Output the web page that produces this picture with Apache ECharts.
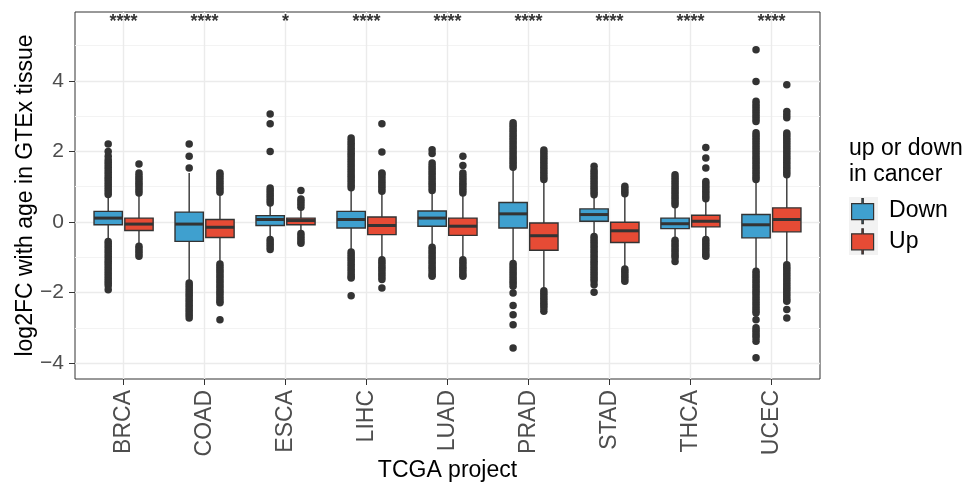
<!DOCTYPE html>
<html>
<head>
<meta charset="utf-8">
<script src="https://cdn.jsdelivr.net/npm/echarts@6/dist/echarts.min.js"></script>
<style>
  html, body { margin: 0; padding: 0; background: #fff; }
  #chart { width: 967px; height: 484px; }
</style>
</head>
<body>
<div id="chart"></div>
<script>
// TCGA projects along x
var projects = ['BRCA', 'COAD', 'ESCA', 'LIHC', 'LUAD', 'PRAD', 'STAD', 'THCA', 'UCEC'];
var stars = ['****', '****', '*', '****', '****', '****', '****', '****', '****'];

// [lower whisker, Q1, median, Q3, upper whisker]
var downBoxes = [
    [-0.50, -0.08, 0.11, 0.30, 0.73],
    [-1.68, -0.55, -0.06, 0.28, 1.39],
    [-0.43, -0.10, 0.07, 0.18, 0.49],
    [-0.80, -0.17, 0.07, 0.30, 0.92],
    [-0.69, -0.12, 0.11, 0.31, 0.84],
    [-1.12, -0.17, 0.23, 0.55, 1.50],
    [-0.33, 0.02, 0.21, 0.37, 0.72],
    [-0.50, -0.19, -0.05, 0.11, 0.44],
    [-1.35, -0.45, -0.08, 0.21, 1.15]
];
var upBoxes = [
    [-0.60, -0.24, -0.06, 0.11, 0.76],
    [-1.14, -0.44, -0.15, 0.07, 0.76],
    [-0.27, -0.08, 0.04, 0.11, 0.35],
    [-1.02, -0.36, -0.10, 0.14, 0.82],
    [-1.02, -0.38, -0.12, 0.11, 0.77],
    [-1.90, -0.80, -0.39, -0.03, 1.15],
    [-1.28, -0.58, -0.25, -0.01, 0.72],
    [-0.45, -0.14, 0.02, 0.19, 0.63],
    [-1.16, -0.28, 0.07, 0.40, 1.29]
];

// outlying points, one list per project
var downOutliers = [
    [0.78, 0.85, 0.92, 0.99, 1.06, 1.13, 1.20, 1.27, 1.34, 1.41, 1.48, 1.55, 1.62, 1.69, 1.76, 1.86, 2.00, 2.21,
     -0.55, -0.62, -0.69, -0.76, -0.83, -0.90, -0.97, -1.04, -1.11, -1.18, -1.25, -1.32, -1.39, -1.46, -1.53, -1.60, -1.67, -1.74, -1.81, -1.92],
    [1.53, 1.86, 2.21,
     -1.73, -1.80, -1.87, -1.94, -2.01, -2.08, -2.15, -2.22, -2.29, -2.36, -2.43, -2.50, -2.57, -2.64, -2.72],
    [0.54, 0.61, 0.68, 0.75, 0.82, 0.89, 0.96, 2.00, 2.78, 3.06,
     -0.50, -0.57, -0.64, -0.71, -0.78],
    [0.97, 1.04, 1.11, 1.18, 1.25, 1.32, 1.39, 1.46, 1.53, 1.60, 1.67, 1.74, 1.81, 1.88, 1.95, 2.02, 2.09, 2.16, 2.23, 2.30, 2.38,
     -0.85, -0.92, -0.99, -1.06, -1.13, -1.20, -1.27, -1.34, -1.41, -1.48, -1.55, -1.59, -2.09],
    [0.89, 0.96, 1.03, 1.10, 1.17, 1.24, 1.31, 1.38, 1.45, 1.52, 1.59, 1.67, 1.94, 2.05,
     -0.72, -0.79, -0.86, -0.93, -1.00, -1.07, -1.14, -1.21, -1.28, -1.35, -1.42, -1.49, -1.54],
    [1.55, 1.62, 1.69, 1.76, 1.83, 1.90, 1.97, 2.04, 2.11, 2.18, 2.25, 2.32, 2.39, 2.46, 2.53, 2.60, 2.67, 2.74, 2.81,
     -1.18, -1.25, -1.32, -1.39, -1.46, -1.53, -1.60, -1.67, -1.74, -1.82, -2.01, -2.37, -2.63, -2.91, -3.57],
    [0.77, 0.84, 0.91, 0.98, 1.05, 1.12, 1.19, 1.26, 1.33, 1.40, 1.47, 1.58,
     -0.41, -0.48, -0.55, -0.62, -0.69, -0.76, -0.83, -0.90, -0.97, -1.04, -1.11, -1.18, -1.25, -1.32, -1.39, -1.46, -1.53, -1.60, -1.67, -1.78, -1.99],
    [0.49, 0.56, 0.63, 0.70, 0.77, 0.84, 0.91, 0.98, 1.05, 1.12, 1.19, 1.26, 1.34,
     -0.52, -0.59, -0.66, -0.73, -0.80, -0.87, -0.94, -1.01, -1.12],
    [1.20, 1.27, 1.34, 1.41, 1.48, 1.55, 1.62, 1.69, 1.76, 1.83, 1.90, 1.97, 2.04, 2.11, 2.18, 2.25, 2.32, 2.39, 2.46, 2.53,
     2.85, 2.92, 2.99, 3.06, 3.13, 3.20, 3.27, 3.34, 3.42, 3.98, 4.88,
     -1.40, -1.47, -1.54, -1.61, -1.68, -1.75, -1.82, -1.89, -1.96, -2.03, -2.10, -2.17, -2.24, -2.31, -2.38, -2.45, -2.52, -2.58,
     -2.77, -3.00, -3.07, -3.14, -3.21, -3.28, -3.38, -3.85]
];
var upOutliers = [
    [0.82, 0.89, 0.96, 1.03, 1.10, 1.17, 1.24, 1.31, 1.39, 1.64,
     -0.69, -0.76, -0.83, -0.90, -0.97],
    [0.84, 0.91, 0.98, 1.05, 1.12, 1.19, 1.26, 1.33, 1.39,
     -1.19, -1.26, -1.33, -1.40, -1.47, -1.54, -1.61, -1.68, -1.75, -1.82, -1.89, -1.96, -2.03, -2.10, -2.17, -2.24, -2.29, -2.77],
    [0.42, 0.50, 0.58, 0.65, 0.89,
     -0.33, -0.40, -0.47, -0.54, -0.60],
    [0.87, 0.94, 1.01, 1.08, 1.15, 1.22, 1.29, 1.36, 1.39, 1.98, 2.78,
     -1.07, -1.14, -1.21, -1.28, -1.35, -1.42, -1.49, -1.56, -1.63, -1.87],
    [0.82, 0.89, 0.96, 1.03, 1.10, 1.17, 1.24, 1.31, 1.39, 1.60, 1.86,
     -1.07, -1.14, -1.21, -1.28, -1.35, -1.42, -1.49, -1.54],
    [1.20, 1.27, 1.34, 1.41, 1.48, 1.55, 1.62, 1.69, 1.76, 1.83, 1.90, 1.97, 2.04,
     -1.95, -2.02, -2.09, -2.16, -2.23, -2.30, -2.37, -2.44, -2.53],
    [0.80, 0.87, 0.94, 1.01,
     -1.33, -1.40, -1.47, -1.54, -1.61, -1.68],
    [0.66, 0.73, 0.80, 0.87, 0.94, 1.01, 1.08, 1.15, 1.53, 1.81, 2.11,
     -0.50, -0.57, -0.64, -0.71, -0.78, -0.85, -0.92, -0.97],
    [1.34, 1.41, 1.48, 1.55, 1.62, 1.69, 1.76, 1.83, 1.90, 1.97, 2.04, 2.11, 2.18, 2.25, 2.32, 2.39, 2.46, 2.52,
     2.95, 3.04, 3.13, 3.89,
     -1.21, -1.28, -1.35, -1.42, -1.49, -1.56, -1.63, -1.70, -1.77, -1.84, -1.91, -1.98, -2.05, -2.12, -2.19, -2.25, -2.48, -2.72]
];

var majorTicks = [-4, -2, 0, 2, 4];
var minorTicks = [-3, -1, 1, 3, 5];

var DODGE = 0.19;     // half the dodge distance, in category units
var BOX_W = 0.35;     // box width, in category units
var STAR_Y = 5.67;
var FONT = '"Liberation Sans", Arial, Helvetica, sans-serif';
var DARK = '#333333';
var keyIcon = 'path://M11,0h1.4v5h10.3v16h-10.3v4h-1.4v-4h-10.3v-16h10.3z';

var chart = echarts.init(document.getElementById('chart'));

function boxData(boxes, shift) {
    return boxes.map(function (b, i) { return [i + shift].concat(b); });
}

function pointData(lists, shift) {
    var out = [];
    lists.forEach(function (vals, i) {
        vals.forEach(function (v) { out.push([i + shift, v]); });
    });
    return out;
}

function renderBox(params, api) {
    var x = api.value(0);
    var lo = api.coord([x, api.value(1)]);
    var q1 = api.coord([x, api.value(2)]);
    var med = api.coord([x, api.value(3)]);
    var q3 = api.coord([x, api.value(4)]);
    var hi = api.coord([x, api.value(5)]);
    var half = api.size([BOX_W, 0])[0] / 2;
    return {
        type: 'group',
        children: [
            {type: 'line', shape: {x1: lo[0], y1: lo[1], x2: hi[0], y2: hi[1]},
             style: {stroke: DARK, lineWidth: 1.4}},
            {type: 'rect', shape: {x: q3[0] - half, y: q3[1], width: half * 2, height: q1[1] - q3[1]},
             style: {fill: api.visual('color'), stroke: DARK, lineWidth: 1.4}},
            {type: 'line', shape: {x1: med[0] - half, y1: med[1], x2: med[0] + half, y2: med[1]},
             style: {stroke: DARK, lineWidth: 3}}
        ]
    };
}

function minusLabel(v) {
    return v < 0 ? '\u2212' + (-v) : String(v);
}

var option = {
    animation: false,
    backgroundColor: '#ffffff',
    textStyle: {fontFamily: FONT},
    grid: {
        left: 75, right: 147, top: 12, bottom: 105,
        outerBoundsMode: 'none',
        containLabel: false,
        show: true, borderColor: DARK, borderWidth: 1
    },
    title: {
        text: 'up or down\nin cancer',
        left: 849, top: 136,
        padding: 0,
        textStyle: {fontFamily: FONT, fontSize: 23, fontWeight: 'normal', color: '#000', lineHeight: 26}
    },
    graphic: [{
        type: 'rect', left: 849, top: 197, z: -1,
        shape: {width: 29, height: 58},
        style: {fill: '#F2F2F2'}
    }],
    legend: {
        orient: 'vertical',
        left: 851, top: 198,
        padding: 0,
        itemWidth: 23, itemHeight: 25, itemGap: 4,
        data: [{name: 'Down', icon: keyIcon}, {name: 'Up', icon: keyIcon}],
        itemStyle: {borderColor: DARK, borderWidth: 1.2},
        textStyle: {fontFamily: FONT, fontSize: 23, color: '#000', padding: [0, 0, 0, 10]}
    },
    xAxis: {
        type: 'value',
        min: -0.6, max: 8.6,
        name: 'TCGA project',
        nameLocation: 'middle',
        nameGap: 80,
        nameMoveOverlap: false,
        nameTextStyle: {fontFamily: FONT, fontSize: 23, color: '#000'},
        axisLine: {show: false, onZero: false},
        axisTick: {show: true, length: 6, customValues: projects.map(function (p, i) { return i; }),
                   lineStyle: {color: DARK, width: 1}},
        axisLabel: {
            customValues: projects.map(function (p, i) { return i; }),
            rotate: 90, margin: 11,
            fontFamily: FONT, fontSize: 23, color: '#4D4D4D',
            formatter: function (v) { return projects[Math.round(v)]; }
        },
        splitLine: {show: true, lineStyle: {color: '#EBEBEB', width: 1.4}}
    },
    yAxis: [{
        type: 'value',
        min: -4.45, max: 5.95,
        name: 'log2FC with age in GTEx tissue',
        nameLocation: 'middle',
        nameGap: 38,
        nameMoveOverlap: false,
        nameTextStyle: {fontFamily: FONT, fontSize: 23, color: '#000'},
        axisLine: {show: false, onZero: false},
        axisTick: {show: true, length: 6, customValues: majorTicks, lineStyle: {color: DARK, width: 1}},
        axisLabel: {customValues: majorTicks, margin: 11, fontFamily: FONT, fontSize: 21,
                    color: '#4D4D4D', formatter: minusLabel},
        splitLine: {show: true, lineStyle: {color: '#EBEBEB', width: 1.4}}
    }, {
        type: 'value',
        min: -4.45, max: 5.95,
        position: 'right',
        axisLine: {show: false, onZero: false},
        axisTick: {show: false, customValues: minorTicks},
        axisLabel: {show: false},
        splitLine: {show: true, lineStyle: {color: '#F3F3F3', width: 1}}
    }],
    series: [{
        name: 'Down',
        type: 'custom',
        renderItem: renderBox,
        itemStyle: {color: '#3FA0CF'},
        encode: {x: 0, y: [1, 2, 3, 4, 5]},
        data: boxData(downBoxes, -DODGE),
        z: 2
    }, {
        name: 'Up',
        type: 'custom',
        renderItem: renderBox,
        itemStyle: {color: '#E64B35'},
        encode: {x: 0, y: [1, 2, 3, 4, 5]},
        data: boxData(upBoxes, DODGE),
        z: 2
    }, {
        name: 'Down outliers',
        type: 'scatter',
        symbolSize: 7.5,
        itemStyle: {color: DARK, opacity: 1},
        data: pointData(downOutliers, -DODGE),
        z: 3
    }, {
        name: 'Up outliers',
        type: 'scatter',
        symbolSize: 7.5,
        itemStyle: {color: DARK, opacity: 1},
        data: pointData(upOutliers, DODGE),
        z: 3
    }, {
        name: 'significance',
        type: 'scatter',
        symbolSize: 0,
        silent: true,
        data: stars.map(function (s, i) { return [i, STAR_Y]; }),
        label: {
            show: true, position: 'inside',
            fontFamily: FONT, fontSize: 18, fontWeight: 'bold', color: '#000',
            formatter: function (p) { return stars[p.dataIndex]; }
        },
        z: 4
    }]
};

chart.setOption(option);
</script>
</body>
</html>
